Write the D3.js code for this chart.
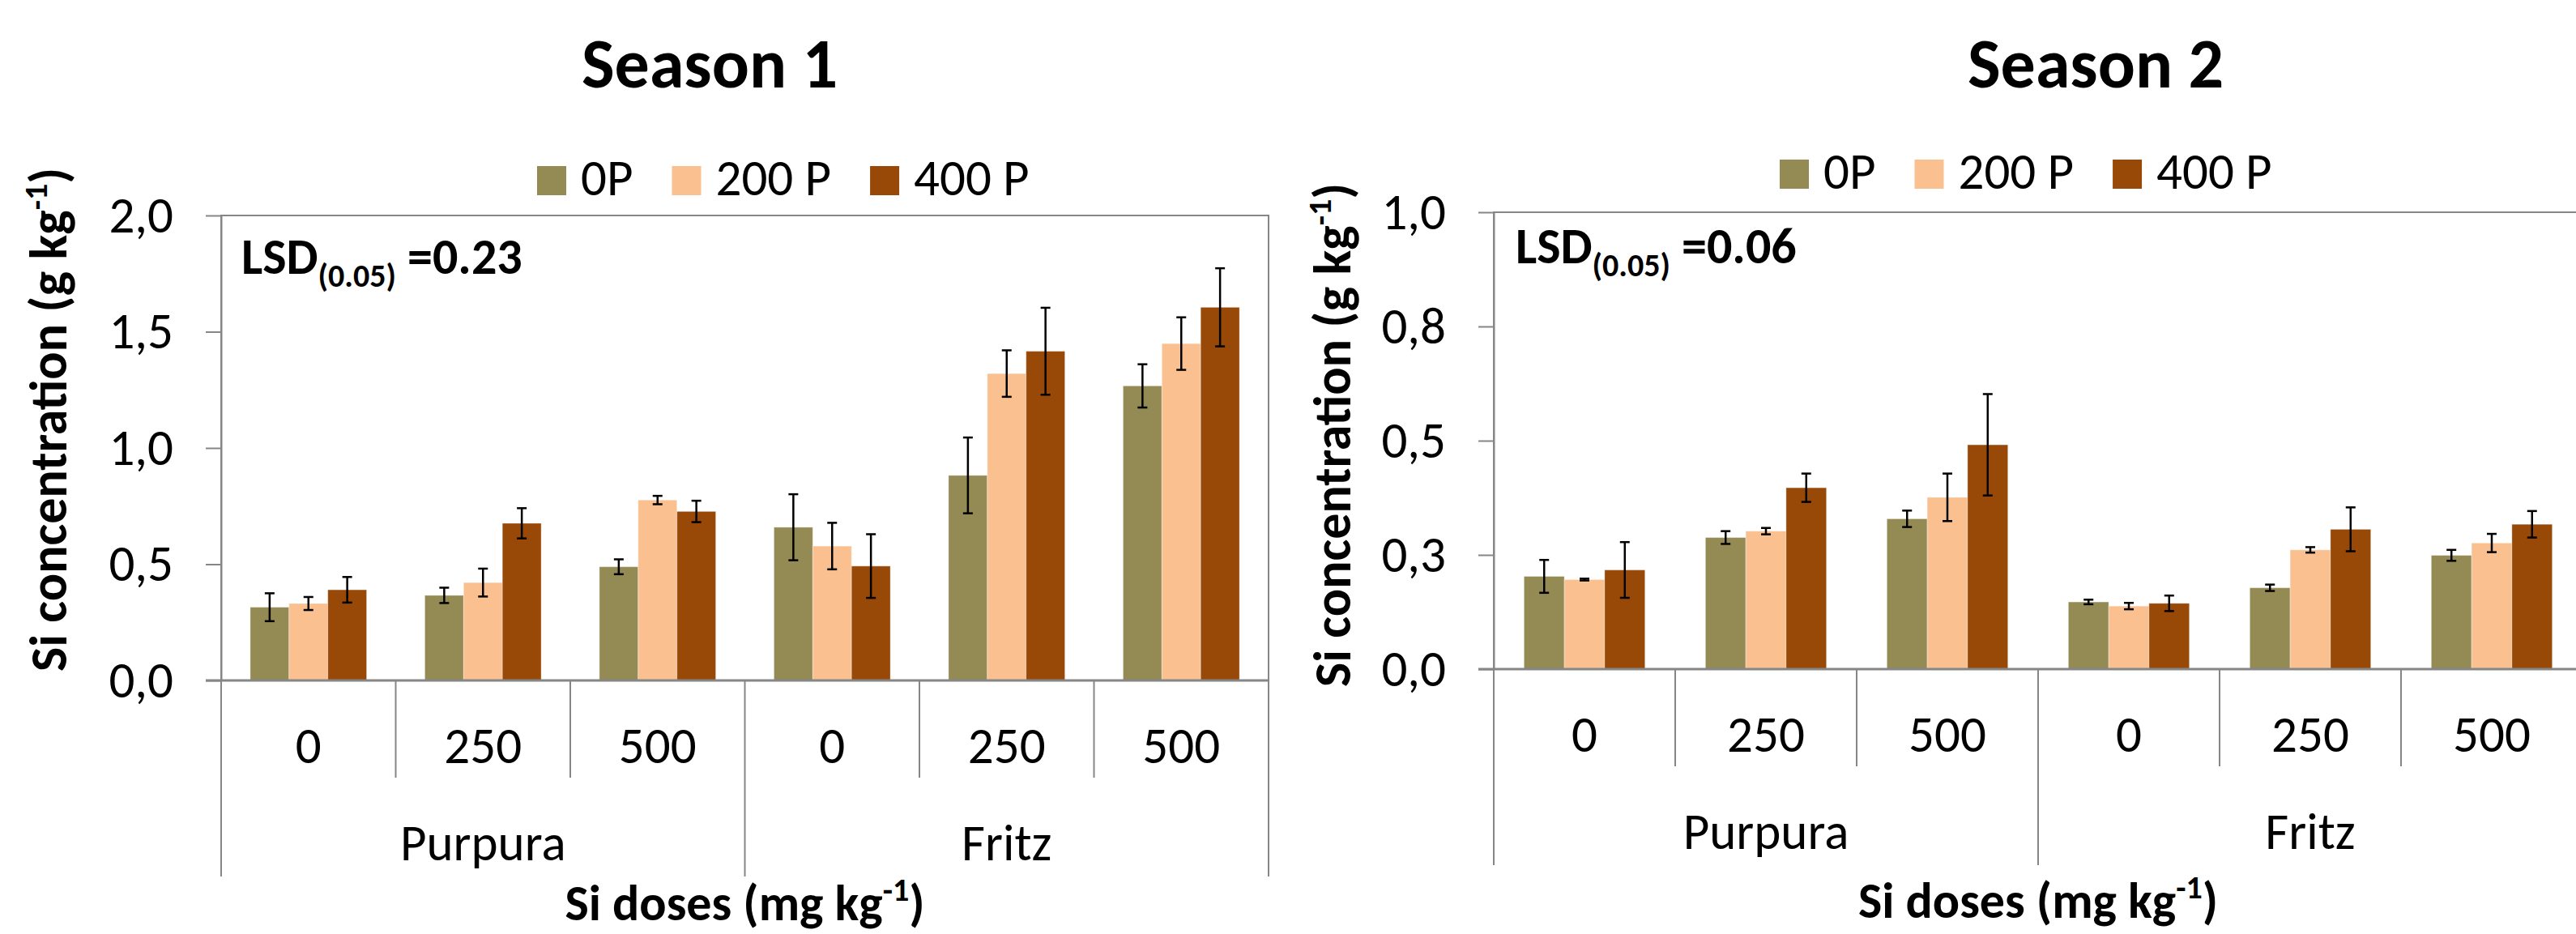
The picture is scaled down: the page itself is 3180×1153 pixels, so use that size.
<!DOCTYPE html>
<html>
<head>
<meta charset="utf-8">
<script src="https://cdn.jsdelivr.net/npm/d3@7"></script>
<style>
  html, body { margin: 0; padding: 0; background: #fff; }
  svg { display: block; }
  text { font-family: Carlito, Calibri, Lato, sans-serif; fill: #000; }
</style>
</head>
<body>
<svg id="chart" width="3180" height="1153"></svg>
<script>
// ---------------- DATA ----------------
const doses = ["0", "250", "500", "0", "250", "500"];
const cultivars = ["Purpura", "Fritz"];
const seriesNames = ["0P", "200 P", "400 P"];
const seriesColors = ["#948A54", "#FAC090", "#984807"];

const season1_0P   = [0.315, 0.366, 0.489, 0.659, 0.882, 1.267];
const season1_200P = [0.331, 0.421, 0.776, 0.578, 1.320, 1.449];
const season1_400P = [0.390, 0.676, 0.727, 0.492, 1.416, 1.605];
const season1_err0P   = [0.060, 0.033, 0.032, 0.142, 0.163, 0.093];
const season1_err200P = [0.028, 0.060, 0.018, 0.100, 0.100, 0.113];
const season1_err400P = [0.055, 0.065, 0.046, 0.137, 0.187, 0.168];

const season2_0P   = [0.203, 0.288, 0.329, 0.147, 0.178, 0.249];
const season2_200P = [0.196, 0.302, 0.376, 0.138, 0.261, 0.276];
const season2_400P = [0.217, 0.397, 0.491, 0.144, 0.306, 0.317];
const season2_err0P   = [0.036, 0.014, 0.018, 0.005, 0.007, 0.012];
const season2_err200P = [0.002, 0.007, 0.052, 0.007, 0.006, 0.020];
const season2_err400P = [0.061, 0.031, 0.111, 0.017, 0.048, 0.029];

const season1Ticks = [0, 0.5, 1, 1.5, 2];
const season1TickLabels = ["0,0", "0,5", "1,0", "1,5", "2,0"];
const season2Ticks = [0, 0.25, 0.5, 0.75, 1];
const season2TickLabels = ["0,0", "0,3", "0,5", "0,8", "1,0"];

const titles = ["Season 1", "Season 2"];
const lsdValues = ["0.23", "0.06"];

// ---------------- DRAW ----------------
const svg = d3.select("#chart");
const AXIS = "#868686";
const FS = 63;

function drawChart(cfg) {
  const { left, right, top, bottom, yMax, ticks, tickLabels, values, errors,
          title, titleX, legendX, legendTop, lsd, lsdX, lsdY, yTitleX, yTitleY, xTitleY } = cfg;
  const g = svg.append("g");

  const x = d3.scaleBand().domain(d3.range(doses.length)).range([left, right]).padding(0);
  const xs = d3.scaleBand().domain(d3.range(seriesNames.length))
    .range([0, x.bandwidth()]).paddingInner(0).paddingOuter(0.75);
  const y = d3.scaleLinear().domain([0, yMax]).range([bottom, top]);

  // plot border
  g.append("rect").attr("x", left).attr("y", top)
    .attr("width", right - left).attr("height", bottom - top)
    .attr("fill", "none").attr("stroke", AXIS).attr("stroke-width", 2);

  // y axis
  const yAxis = d3.axisLeft(y).tickValues(ticks)
    .tickFormat((d, i) => tickLabels[i]).tickSize(19).tickSizeOuter(0).tickPadding(40);
  const ya = g.append("g").attr("transform", `translate(${left},0)`).call(yAxis);
  ya.select(".domain").attr("stroke", AXIS).attr("stroke-width", 2);
  ya.selectAll(".tick line").attr("stroke", AXIS).attr("stroke-width", 2);
  ya.selectAll(".tick text").attr("font-size", FS).attr("font-family", "Carlito, Calibri, Lato, sans-serif").attr("fill", "#000");

  // bars
  seriesNames.forEach((s, si) => {
    g.append("g").selectAll("rect").data(values[si]).join("rect")
      .attr("x", (d, i) => x(i) + xs(si))
      .attr("y", d => y(d))
      .attr("width", xs.bandwidth())
      .attr("height", d => bottom - y(d))
      .attr("fill", seriesColors[si])
      .attr("stroke", "#ffffff").attr("stroke-opacity", 0.35).attr("stroke-width", 1);
  });

  // error bars
  seriesNames.forEach((s, si) => {
    const eg = g.append("g").attr("stroke", "#000").attr("stroke-width", 2.5);
    values[si].forEach((v, i) => {
      const cx = x(i) + xs(si) + xs.bandwidth() / 2;
      const e = errors[si][i];
      eg.append("line").attr("x1", cx).attr("x2", cx).attr("y1", y(v - e)).attr("y2", y(v + e));
      eg.append("line").attr("x1", cx - 6).attr("x2", cx + 6).attr("y1", y(v - e)).attr("y2", y(v - e));
      eg.append("line").attr("x1", cx - 6).attr("x2", cx + 6).attr("y1", y(v + e)).attr("y2", y(v + e));
    });
  });

  // x axis line
  g.append("line").attr("x1", left - 19).attr("x2", right).attr("y1", bottom).attr("y2", bottom)
    .attr("stroke", AXIS).attr("stroke-width", 3);

  // category separators
  const per = doses.length / cultivars.length;
  for (let i = 0; i <= doses.length; i++) {
    const xx = i < doses.length ? x(i) : right;
    const long = i % per === 0;
    g.append("line").attr("x1", xx).attr("x2", xx).attr("y1", bottom)
      .attr("y2", bottom + (long ? 242 : 120)).attr("stroke", AXIS).attr("stroke-width", 2);
  }
  // dose labels
  g.append("g").selectAll("text").data(doses).join("text")
    .attr("x", (d, i) => x(i) + x.bandwidth() / 2).attr("y", bottom + 102)
    .attr("text-anchor", "middle").attr("font-size", FS).text(d => d);
  // cultivar labels
  g.append("g").selectAll("text").data(cultivars).join("text")
    .attr("x", (d, i) => (x(i * per) + (i * per + per < doses.length ? x(i * per + per) : right)) / 2)
    .attr("y", bottom + 222)
    .attr("text-anchor", "middle").attr("font-size", FS).text(d => d);

  // x title
  const xt = g.append("text").attr("x", (left + right) / 2).attr("y", xTitleY)
    .attr("text-anchor", "middle").attr("font-size", 62).attr("font-weight", "bold");
  xt.append("tspan").text("Si doses (mg kg");
  xt.append("tspan").attr("font-size", 40).attr("dy", -24).text("-1");
  xt.append("tspan").attr("dy", 24).text(")");

  // y title
  const yt = g.append("text").attr("transform", `translate(${yTitleX},${yTitleY}) rotate(-90)`)
    .attr("text-anchor", "middle").attr("font-size", 64).attr("font-weight", "bold");
  yt.append("tspan").text("Si concentration (g kg");
  yt.append("tspan").attr("font-size", 40).attr("dy", -24).text("-1");
  yt.append("tspan").attr("dy", 24).text(")");

  // title
  g.append("text").attr("x", titleX).attr("y", 108).attr("text-anchor", "middle")
    .attr("font-size", 86).attr("font-weight", "bold").text(title);

  // legend
  let lx = legendX;
  seriesNames.forEach((s, si) => {
    g.append("rect").attr("x", lx).attr("y", legendTop).attr("width", 36).attr("height", 36)
      .attr("fill", seriesColors[si]);
    const t = g.append("text").attr("x", lx + 54).attr("y", legendTop + 36)
      .attr("font-size", FS).text(s);
    lx = lx + 54 + t.node().getComputedTextLength() + 48;
  });

  // LSD
  const lt = g.append("text").attr("x", lsdX).attr("y", lsdY)
    .attr("font-size", 62).attr("font-weight", "bold");
  lt.append("tspan").text("LSD");
  lt.append("tspan").attr("font-size", 40).attr("dy", 16).text("(0.05)");
  lt.append("tspan").attr("dy", -16).text(" =" + lsd);
}

drawChart({
  left: 273, right: 1566, top: 266, bottom: 840, yMax: 2,
  ticks: season1Ticks, tickLabels: season1TickLabels,
  values: [season1_0P, season1_200P, season1_400P],
  errors: [season1_err0P, season1_err200P, season1_err400P],
  title: titles[0], titleX: 876, legendX: 663, legendTop: 205,
  lsd: lsdValues[0], lsdX: 298, lsdY: 338, yTitleX: 82, yTitleY: 518, xTitleY: 1136
});

drawChart({
  left: 1844, right: 3188, top: 262, bottom: 826, yMax: 1,
  ticks: season2Ticks, tickLabels: season2TickLabels,
  values: [season2_0P, season2_200P, season2_400P],
  errors: [season2_err0P, season2_err200P, season2_err400P],
  title: titles[1], titleX: 2587, legendX: 2197, legendTop: 197,
  lsd: lsdValues[1], lsdX: 1871, lsdY: 325, yTitleX: 1667, yTitleY: 537, xTitleY: 1133
});
</script>
</body>
</html>
